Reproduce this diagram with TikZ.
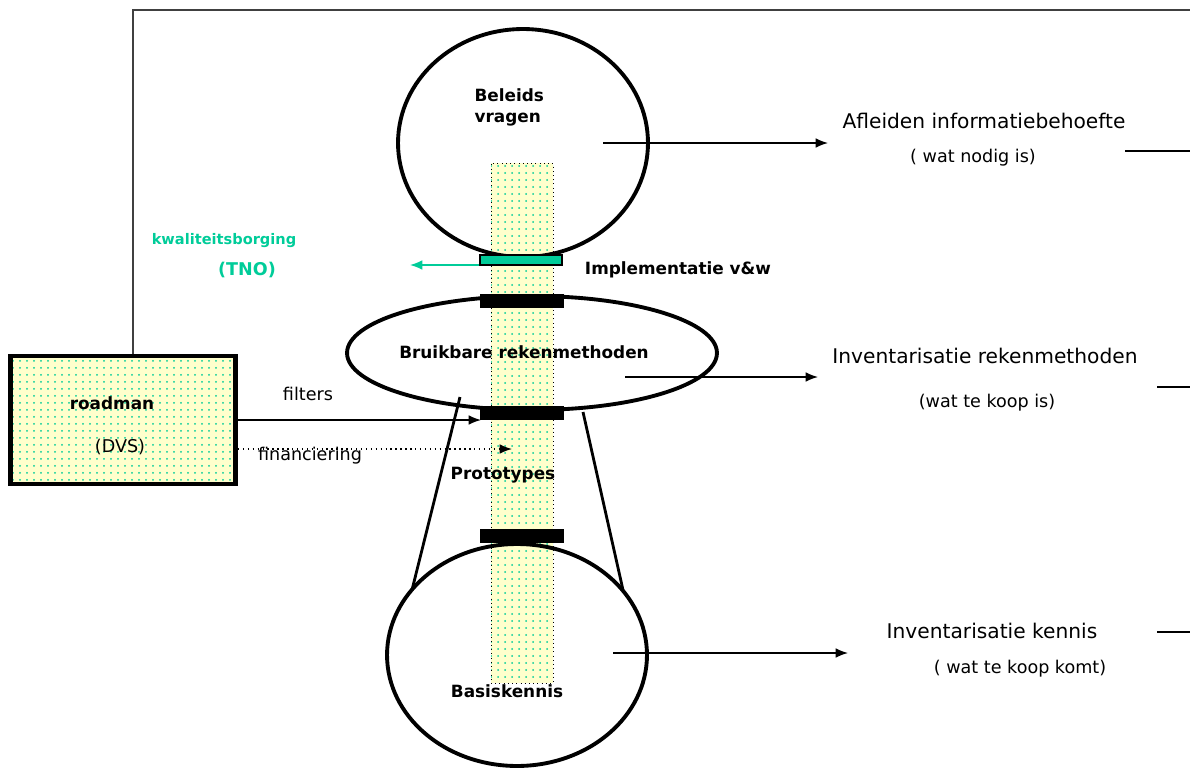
\documentclass[tikz,border=0pt]{standalone}
\usepackage{fontspec}
\setmainfont{DejaVu Sans}
\usetikzlibrary{shapes.geometric, patterns.meta, arrows.meta}

\definecolor{paleyellow}{HTML}{FFFFCC}
\definecolor{dotgreen}{HTML}{00CC99}
\definecolor{framegray}{HTML}{404040}

\begin{document}
\begin{tikzpicture}[>={Latex[length=7pt, width=5.5pt]}, x=0.02cm, y=-0.02cm, line width=0.8pt,
  dotfill/.style={preaction={fill=paleyellow}, pattern={Dots[distance=4pt, radius=0.65pt]}, pattern color=dotgreen},
  ring/.style={draw, ellipse, line width=2.2pt, inner sep=0pt},
  bar/.style={draw, inner sep=0pt, minimum width=1.64cm, minimum height=0.24cm, fill=black},
  boldtext/.style={font=\fontsize{9.6}{12}\selectfont\bfseries},
  aimtext/.style={font=\fontsize{11.5}{14}\selectfont},
  smalltext/.style={font=\fontsize{10}{12}\selectfont}];

\useasboundingbox (0, 0) rectangle (1190, 774);

\node (strip) at (522, 423) [draw, dotted, thin, dotfill, inner sep=0pt, minimum width=1.24cm, minimum height=10.4cm] {};

\node (beleid) at (523, 143)   [ring, minimum width=5cm, minimum height=4.56cm] {};
\node (methode) at (532, 353)  [ring, minimum width=7.4cm, minimum height=2.28cm] {};
\node (kennis) at (517, 655)   [ring, minimum width=5.2cm, minimum height=4.44cm] {};

\node (roadman) at (123, 420) [draw, line width=2.8pt, dotfill, inner sep=0pt, minimum width=4.5cm, minimum height=2.56cm] {};

\node (gbar) at (521, 260) [bar, fill=dotgreen, minimum height=0.2cm] {};
\node (bar1) at (522, 301) [bar] {};
\node (bar2) at (522, 413) [bar] {};
\node (bar3) at (522, 536) [bar] {};

\node (beleidtxt) at (468, 107) [boldtext, anchor=west, align=left] {Beleids\\vragen};
\node (kwal) at (224, 241) [text=dotgreen, font=\fontsize{8.3}{10}\selectfont\bfseries] {kwaliteitsborging};
\node (tno) at (247, 270) [text=dotgreen, font=\fontsize{10}{12}\selectfont\bfseries] {(TNO)};
\node (impl) at (678, 270) [boldtext] {Implementatie v\&w};
\node (methodetxt) at (524, 352) [boldtext] {Bruikbare rekenmethoden};
\node (proto) at (503, 475) [boldtext] {Prototypes};
\node (kennistxt) at (507, 691) [boldtext] {Basiskennis};
\node (roadtxt) at (112, 403) [boldtext] {roadman};
\node (dvs) at (120, 447) [smalltext] {(DVS)};
\node (filt) at (308, 394) [smalltext] {filters};
\node (fin) at (310, 456) [smalltext] {financiering};

\node (need1) at (984, 121) [aimtext] {Afleiden informatiebehoefte};
\node (need1b) at (973, 158) [smalltext] {( wat nodig is)};
\node (need2) at (985, 356) [aimtext] {Inventarisatie rekenmethoden};
\node (need2b) at (987, 403) [smalltext] {(wat te koop is)};
\node (need3) at (992, 631) [aimtext] {Inventarisatie kennis};
\node (need3b) at (1020, 669) [smalltext] {( wat te koop komt)};

\coordinate (frametop) at (133, 10);
\coordinate (frameend) at (1195, 10);
\coordinate (tnotip) at (410, 265);
\coordinate (filttip) at (481, 420);
\coordinate (fintip) at (512, 449);
\coordinate (q1) at (603, 143);
\coordinate (q1tip) at (828, 143);
\coordinate (q2) at (625, 377);
\coordinate (q2tip) at (818, 377);
\coordinate (q3) at (613, 653);
\coordinate (q3tip) at (848, 653);
\coordinate (left1) at (460, 397);
\coordinate (left2) at (412, 590);
\coordinate (right1) at (583, 412);
\coordinate (right2) at (623, 590);
\coordinate (stub1) at (1195, 151);
\coordinate (stub2) at (1195, 387);
\coordinate (stub3) at (1195, 632);

\draw[framegray, line width=1.2pt] (roadman.north -| frametop) -- (frametop) -- (frameend);

\path[->, dotgreen] (gbar.west |- tnotip) edge (tnotip);
\path[->] (roadman.east |- filttip) edge (filttip);
\path[->, dotted] (roadman.east |- fintip) edge (fintip);

\path[->] (q1) edge (q1tip);
\path[->] (q2) edge (q2tip);
\path[->] (q3) edge (q3tip);

\draw[line width=1.6pt] (left1) -- (left2);
\draw[line width=1.6pt] (right1) -- (right2);

\draw (1125, 151) -- (stub1);
\draw (1157, 387) -- (stub2);
\draw (1157, 632) -- (stub3);

\end{tikzpicture}
\end{document}
